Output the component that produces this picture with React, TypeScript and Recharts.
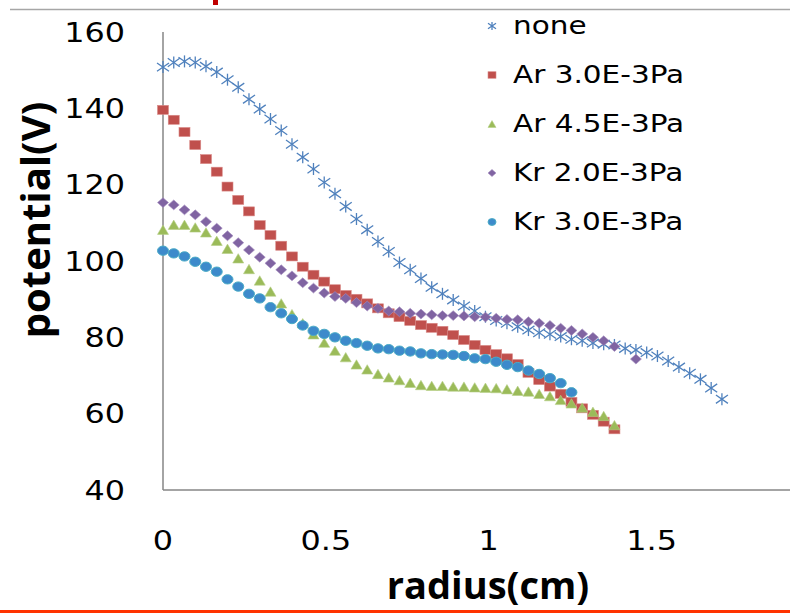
import { Legend, Scatter, ScatterChart, XAxis, YAxis } from "recharts";

// radius (cm) of each probe position, same grid for every run
const RADIUS = [
  0, 0.033, 0.066, 0.099, 0.132, 0.165, 0.198, 0.231, 0.264, 0.297, 0.33, 0.363, 0.396, 0.429,
  0.462, 0.495, 0.528, 0.561, 0.594, 0.627, 0.66, 0.693, 0.726, 0.759, 0.792, 0.825, 0.858,
  0.891, 0.924, 0.957, 0.99, 1.023, 1.056, 1.089, 1.122, 1.155, 1.188, 1.221, 1.254, 1.287,
  1.32, 1.353, 1.386, 1.419, 1.452, 1.485, 1.518, 1.551, 1.584, 1.617, 1.65, 1.683, 1.716,
];

// potential (V)
const NONE = [
  150.8, 152, 152.3, 152, 151, 149.5, 147.5, 145.5, 142.4, 139.8, 137.2, 134.2, 130.6, 127.2,
  124.1, 120.6, 117.6, 114.3, 111, 108.2, 105.1, 102.5, 99.6, 97.7, 95.4, 93.1, 91.4, 89.8,
  88.2, 86.9, 85.4, 84.4, 83.7, 82.8, 81.9, 81.2, 80.8, 80.2, 79.5, 79.1, 78.5, 78.2, 78, 77.1,
  76.7, 76, 75.1, 73.8, 72.2, 70.6, 69, 66.7, 63.8,
];
const AR_30 = [
  139.6, 137, 133.8, 130.4, 126.7, 123.4, 119.5, 116, 113, 109.4, 106.8, 104, 101.2, 98.5, 96.4,
  94.6, 92.6, 91.1, 90.1, 88.9, 87.6, 86.3, 85.3, 84.3, 83.2, 82.5, 81.7, 80.6, 79.3, 78, 76.7,
  75.6, 74.5, 73, 70.7, 68.8, 67.1, 65.2, 63.1, 61.4, 59.7, 57.9, 55.9,
];
const AR_45 = [
  108.2, 109.5, 109.5, 108.8, 107.5, 105.3, 103.2, 100.7, 97.9, 94.9, 92, 88.9, 86.1, 83.7, 80.8,
  78.6, 76.5, 74.8, 72.9, 71.6, 70.4, 69.5, 68.8, 68.1, 67.5, 67.3, 67.3, 67.1, 67.1, 66.9, 66.8,
  66.7, 66.4, 66, 65.8, 65.2, 64.6, 63.6, 62.7, 61.6, 60.5, 59.4, 57,
];
const KR_20 = [
  115.3, 114.7, 113.4, 112.1, 110.3, 108.6, 106.6, 104.8, 102.9, 101, 99.4, 97.7, 96.1, 94.3,
  92.9, 91.6, 90.7, 90.2, 89.1, 88.2, 87.6, 86.9, 86.7, 86.3, 86.1, 85.9, 85.7, 85.7, 85.6, 85.4,
  85.3, 85, 84.7, 84.6, 84.1, 83.7, 83.1, 82.4, 81.8, 80.9, 80, 79.1, 77.6, null, 74.3,
];
const KR_30 = [
  102.7, 102, 101.2, 99.8, 98.5, 97.2, 95.2, 93.3, 91.4, 90.2, 87.9, 86.3, 84.8, 83.1, 81.7,
  80.9, 80, 79.1, 78.5, 77.8, 77.1, 76.9, 76.5, 76.3, 75.8, 75.6, 75.5, 75.4, 75.1, 74.5, 74.3,
  73.6, 72.8, 72.2, 71.3, 70.4, 69.3, 68, 65.6,
];

const X_TICKS = [0, 0.5, 1, 1.5];
const Y_TICKS = [40, 60, 80, 100, 120, 140, 160];

const FONT = "'DejaVu Sans', Verdana, sans-serif";
const TITLE_FONT = "'Open Sans', sans-serif";
const STRETCH = 1.18;

function toPoints(values: (number | null)[]) {
  return values
    .map((v, i) => ({ r: RADIUS[i], v }))
    .filter((p) => p.v !== null);
}

function Asterisk({ cx, cy, s = 6 }: any) {
  return (
    <g stroke="#4f81bd" strokeWidth={1.3} fill="none">
      <line x1={cx} y1={cy - s} x2={cx} y2={cy + s} />
      <line x1={cx - s} y1={cy - s * 0.7} x2={cx + s} y2={cy + s * 0.7} />
      <line x1={cx - s} y1={cy + s * 0.7} x2={cx + s} y2={cy - s * 0.7} />
    </g>
  );
}

function Square({ cx, cy, s = 5.5 }: any) {
  return <rect x={cx - s} y={cy - s * 0.82} width={s * 2} height={s * 1.64} fill="#c0504d" stroke="#d98a88" strokeWidth={0.6} />;
}

function Triangle({ cx, cy, s = 5.5 }: any) {
  const h = s * 0.85;
  return <polygon points={`${cx},${cy - h} ${cx + s},${cy + h} ${cx - s},${cy + h}`} fill="#9bbb59" stroke="#b5cf86" strokeWidth={0.6} />;
}

function Diamond({ cx, cy, s = 5.5 }: any) {
  const h = s * 0.9;
  return <polygon points={`${cx},${cy - h} ${cx + s},${cy} ${cx},${cy + h} ${cx - s},${cy}`} fill="#8064a2" stroke="#a48fc0" strokeWidth={0.6} />;
}

function Dot({ cx, cy, s = 5.5 }: any) {
  return <ellipse cx={cx} cy={cy} rx={s} ry={s * 0.85} fill="#3d8acb" stroke="#4bacc6" strokeWidth={1} />;
}

const SERIES = [
  { name: "none", data: toPoints(NONE), Shape: Asterisk },
  { name: "Ar 3.0E-3Pa", data: toPoints(AR_30), Shape: Square },
  { name: "Ar 4.5E-3Pa", data: toPoints(AR_45), Shape: Triangle },
  { name: "Kr 2.0E-3Pa", data: toPoints(KR_20), Shape: Diamond },
  { name: "Kr 3.0E-3Pa", data: toPoints(KR_30), Shape: Dot },
];

function XTick({ x, y, payload }: any) {
  return (
    <text transform={`translate(${x},${y}) scale(${STRETCH},1)`} textAnchor="middle" dy="0.36em" fontSize={27} fontFamily={FONT} fill="#000">
      {payload.value}
    </text>
  );
}

function YTick({ x, y, payload }: any) {
  return (
    <text transform={`translate(${x},${y}) scale(${STRETCH},1)`} textAnchor="end" dy="0.36em" fontSize={27} fontFamily={FONT} fill="#000">
      {payload.value}
    </text>
  );
}

function LegendBox() {
  return (
    <div style={{ fontFamily: FONT, fontSize: 25, color: "#000" }}>
      {SERIES.map(({ name, Shape }) => (
        <div key={name} style={{ height: 49, display: "flex", alignItems: "center" }}>
          <svg width={20} height={20} style={{ marginRight: 11 }}>
            <Shape cx={10} cy={10} s={4} />
          </svg>
          <span style={{ display: "inline-block", transform: `scaleX(${STRETCH})`, transformOrigin: "left center", whiteSpace: "nowrap" }}>
            {name}
          </span>
        </div>
      ))}
    </div>
  );
}

export default function App() {
  return (
    <div style={{ position: "absolute", left: 0, top: 0, width: 790, height: 613, background: "#fff", overflow: "hidden" }}>
      <ScatterChart width={790} height={613} margin={{ top: 32, right: 0, bottom: 63, left: 0 }}>
        <XAxis
          type="number"
          dataKey="r"
          domain={[0, 1.925]}
          ticks={X_TICKS}
          height={60}
          tickSize={0}
          tickMargin={50}
          tickLine={false}
          axisLine={{ stroke: "#868686", strokeWidth: 1.5 }}
          tick={<XTick />}
        />
        <YAxis
          type="number"
          dataKey="v"
          domain={[40, 160]}
          ticks={Y_TICKS}
          width={163}
          tickSize={0}
          tickMargin={38}
          tickLine={false}
          axisLine={{ stroke: "#868686", strokeWidth: 1.5 }}
          tick={<YTick />}
        />
        <Legend
          layout="vertical"
          align="center"
          verticalAlign="middle"
          content={() => <LegendBox />}
          wrapperStyle={{ left: 482, top: 1, width: 300 }}
        />
        {SERIES.map(({ name, data, Shape }) => (
          <Scatter key={name} name={name} data={data} isAnimationActive={false} shape={(p: any) => <Shape cx={p.cx} cy={p.cy} />} />
        ))}
      </ScatterChart>
      <svg width={790} height={613} style={{ position: "absolute", left: 0, top: 0, pointerEvents: "none" }}>
        <line x1={10} y1={9.5} x2={790} y2={9.5} stroke="#a6a6a6" strokeWidth={1.5} />
        <rect x={213} y={0} width={5} height={5} fill="#c00000" />
        <text x={488} y={599} textAnchor="middle" fontFamily={TITLE_FONT} fontWeight="bold" fontSize={38} fill="#000">
          radius(cm)
        </text>
        <text transform="translate(50,220) rotate(-90)" textAnchor="middle" fontFamily={TITLE_FONT} fontWeight="bold" fontSize={40} fill="#000">
          potential(V)
        </text>
        <rect x={0} y={610} width={790} height={3} fill="#ff3300" />
      </svg>
    </div>
  );
}
